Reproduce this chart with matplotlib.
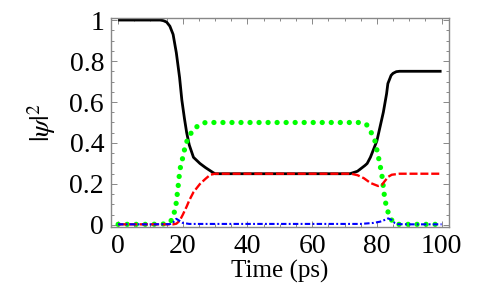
import matplotlib
matplotlib.use("Agg")
import matplotlib.pyplot as plt
from matplotlib.ticker import MultipleLocator

plt.rcParams['font.family'] = ['Liberation Serif', 'DejaVu Serif']
plt.rcParams['mathtext.fontset'] = 'stix'

# ---- data ----
t_black = [0, 10, 13, 14, 15, 16, 17, 18, 19, 19.7, 20.5, 21.2, 22, 23.3, 25.3, 27, 29.4, 30,
           40, 50, 60, 70, 71.7, 74, 76.3, 77, 78, 79, 80, 81, 82, 83, 83.4, 84.4, 85, 86, 87, 90, 100]
v_black = [1, 1, 1, 0.997, 0.99, 0.97, 0.93, 0.84, 0.72, 0.61, 0.52, 0.45, 0.39, 0.33, 0.30, 0.28, 0.255, 0.25,
           0.25, 0.25, 0.25, 0.25, 0.25, 0.262, 0.29, 0.30, 0.33, 0.37, 0.41, 0.48, 0.55, 0.64, 0.69, 0.73, 0.74, 0.748, 0.75, 0.75, 0.75]

t_green = [0, 10, 15, 16, 16.6, 17.3, 17.9, 18.5, 19.1, 20, 20.7, 21.5, 22.2, 23.5, 25.3, 27,
           40, 60, 75, 76.8, 78, 79.4, 80.5, 81.5, 82.5, 83.5, 84.3, 85, 86, 90, 100]
v_green = [0.003, 0.003, 0.005, 0.015, 0.025, 0.057, 0.10, 0.18, 0.27, 0.33, 0.38, 0.42, 0.44, 0.47, 0.49, 0.5,
           0.5, 0.5, 0.5, 0.49, 0.46, 0.41, 0.33, 0.25, 0.12, 0.06, 0.03, 0.015, 0.003, 0.003, 0.003]

t_red = [0, 10, 17, 18, 19, 20, 21.2, 22, 23.3, 24.3, 25.3, 27, 28.5, 30,
         40, 60, 72, 74, 76, 78, 80.4, 81.5, 82.5, 83.5, 84.6, 87, 90, 100]
v_red = [0.003, 0.003, 0.003, 0.006, 0.02, 0.05, 0.09, 0.12, 0.16, 0.18, 0.20, 0.225, 0.245, 0.25,
         0.25, 0.25, 0.25, 0.243, 0.228, 0.205, 0.19, 0.195, 0.215, 0.235, 0.245, 0.25, 0.25, 0.25]

t_blue = [0, 10, 16, 17, 18, 19, 20, 22, 40, 60, 75, 79, 81, 82.5, 83.5, 84.5, 85.5, 86.5, 90, 100]
v_blue = [0.003, 0.003, 0.004, 0.012, 0.03, 0.02, 0.01, 0.005, 0.005, 0.005, 0.005, 0.01, 0.016, 0.025, 0.032, 0.025, 0.01, 0.004, 0.003, 0.003]

x_ticks = [0, 20, 40, 60, 80, 100]
y_ticks = [0, 0.2, 0.4, 0.6, 0.8, 1]
y_ticklabels = ['0', '0.2', '0.4', '0.6', '0.8', '1']

fig = plt.figure(figsize=(4.91, 3.04), dpi=100)
ax = fig.add_axes([111/491, 77/304, 338/491, 209/304])

ax.plot(t_black, v_black, color='black', lw=2.0, solid_capstyle='butt')
ax.plot(t_green, v_green, color=(0, 1, 0), lw=3.8, linestyle=(0, (0.01, 1.7)),
        dash_capstyle='round')
ax.plot(t_red, v_red, color=(1, 0, 0), lw=1.7, linestyle=(0, (3.4, 1.2)))
ax.plot(t_blue, v_blue, color=(0, 0, 1), lw=1.5, linestyle=(0, (2.6, 1.1, 0.9, 1.1)))

ax.set_xlim(-2.2, 102.3)
ax.set_ylim(-0.01, 1.01)
ax.set_xticks(x_ticks)
ax.set_yticks(y_ticks)
ax.set_yticklabels(y_ticklabels)
ax.xaxis.set_minor_locator(MultipleLocator(5))
ax.yaxis.set_minor_locator(MultipleLocator(0.05))

frame_col = '#888888'
for s in ax.spines.values():
    s.set_color(frame_col)
    s.set_linewidth(1.0)
ax.tick_params(which='both', direction='in', top=True, right=True, color=frame_col,
               labelsize=20, labelcolor='black', width=0.7)
ax.tick_params(which='major', length=4, pad=5)
ax.tick_params(which='minor', length=2)

ax.set_xlabel('Time (ps)', fontsize=18, labelpad=1)
ax.set_ylabel(r'$|\psi|^2$', fontsize=20, labelpad=8)

fig.savefig('out.png', dpi=100)
